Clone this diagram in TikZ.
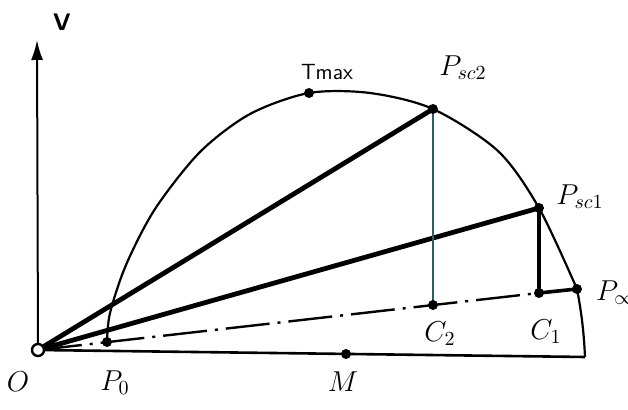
\documentclass[tikz,border=0pt]{standalone}
\usetikzlibrary{arrows.meta}
\definecolor{thinteal}{HTML}{2F5F66}

\begin{document}
\begin{tikzpicture}[x=0.5pt,y=-0.5pt,line width=1.1pt,
    dot/.style={circle,fill=black,inner sep=0pt,minimum size=5pt},
    lbl/.style={font=\fontsize{14.4}{17}\selectfont,inner sep=0pt}]
  \useasboundingbox (0,0) rectangle (628,410);
  \coordinate (O) at (38,350);
  \coordinate (Vtip) at (37,40);
  \coordinate (P0) at (107,342);
  \coordinate (M) at (346,354);
  \coordinate (Tmax) at (309,93);
  \coordinate (Psc2) at (433,109);
  \coordinate (Psc1) at (539,208);
  \coordinate (Pinf) at (577,289);
  \coordinate (C2) at (433,305);
  \coordinate (C1) at (539,293);
  \coordinate (E) at (585,357);
  % axis and base line
  \draw[line width=1pt,-{Latex[length=10pt,width=6pt]}] (O) -- (Vtip);
  \draw[line width=1.3pt] (O) -- (E);
  % circle
  \draw plot[smooth] coordinates {(P0) (110,313) (126,265) (155,209)
    (200,152) (250,114) (Tmax) (370,93) (Psc2) (498,151) (Psc1) (Pinf)};
  \draw (Pinf) .. controls (582,315) and (584,335) .. (E);
  % chords
  \draw[line width=2.4pt] (O) -- (Psc2);
  \draw[line width=2.4pt] (O) -- (Psc1);
  \draw[line width=1.2pt,dash pattern=on 22pt off 4pt on 1.5pt off 4pt] (O) -- (C1);
  \draw[line width=1.8pt] (C1) -- (Pinf);
  \draw[line width=0.8pt,thinteal] (Psc2) -- (C2);
  \draw[line width=2pt] (Psc1) -- (C1);
  \foreach \p in {P0,M,Tmax,Psc2,Psc1,Pinf,C2,C1}
    \node[dot] at (\p) {};
  \node[circle,draw,fill=white,line width=1.2pt,minimum size=6pt,inner sep=0pt] at (O) {};
  % labels
  \node[font=\fontsize{12}{14}\selectfont\sffamily\bfseries] at (62,22) {V};
  \node[font=\fontsize{11}{13}\selectfont\sffamily] at (327,72) {Tmax};
  \node[lbl] at (463,68) {$P_{sc2}$};
  \node[lbl] at (580,197) {$P_{sc1}$};
  \node[lbl,anchor=west] at (595,293) {$P_\infty$};
  \node[lbl] at (440,334) {$C_2$};
  \node[lbl] at (546,332) {$C_1$};
  \node[lbl] at (18,382) {$O$};
  \node[lbl] at (115,383) {$P_0$};
  \node[lbl] at (343,382) {$M$};
\end{tikzpicture}
\end{document}
